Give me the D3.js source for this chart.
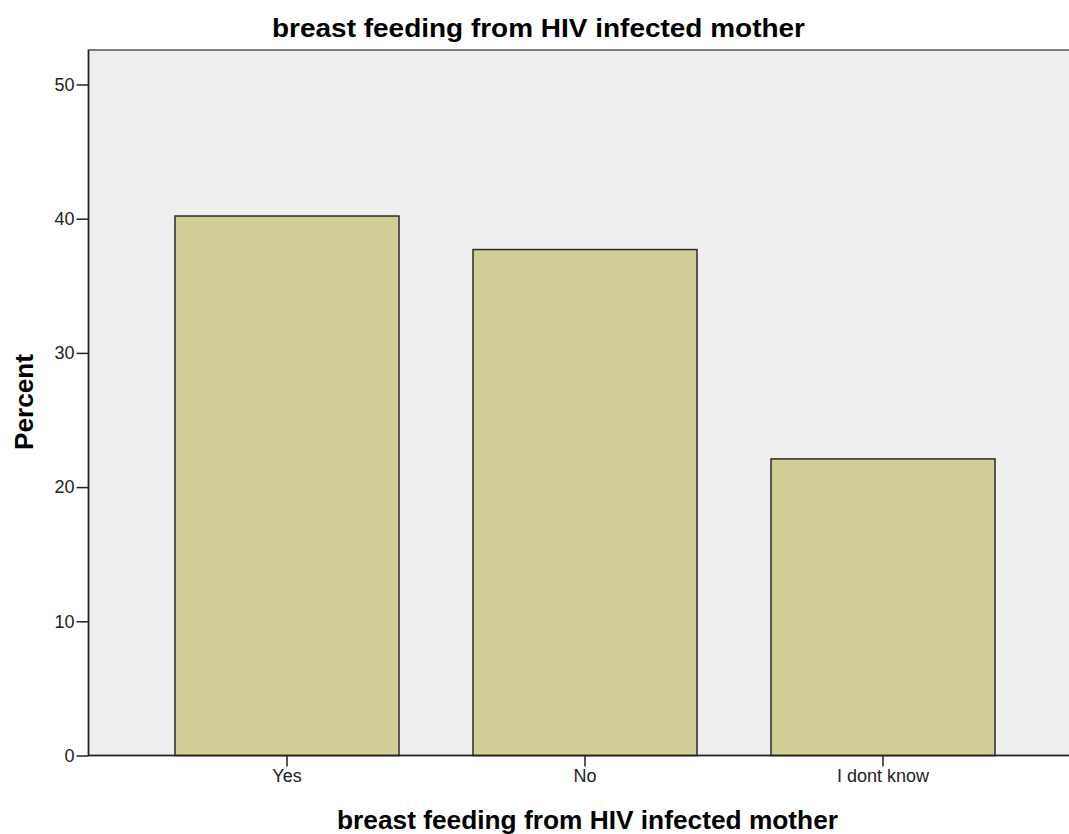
<!DOCTYPE html>
<html>
<head>
<meta charset="utf-8">
<script src="https://cdn.jsdelivr.net/npm/d3@7"></script>
<style>
  body { margin: 0; background: #fff; }
  text { font-family: "Liberation Sans", Arial, sans-serif; }
</style>
</head>
<body>
<div id="chart"></div>
<script>
// data
const categories = ["Yes", "No", "I dont know"];
const percents = [40.2, 37.7, 22.1];
const yTicks = [0, 10, 20, 30, 40, 50];

const width = 1069, height = 834;
const plot = {left: 88.5, top: 50, right: 1075, bottom: 755.5};

const svg = d3.select("#chart").append("svg")
    .attr("width", width)
    .attr("height", height);

// scales
const x = d3.scaleBand()
    .domain(categories)
    .range([138, 1032])
    .paddingInner(74 / 298)
    .paddingOuter(37 / 298);

const y = d3.scaleLinear()
    .domain([0, 52.57])
    .range([plot.bottom, plot.top]);

// plot background
svg.append("rect")
    .attr("x", plot.left)
    .attr("y", plot.top)
    .attr("width", plot.right - plot.left)
    .attr("height", plot.bottom - plot.top)
    .attr("fill", "#efefef")
    .attr("stroke", "#555")
    .attr("stroke-width", 1.5);

// bars
svg.selectAll(".bar")
    .data(percents)
  .enter().append("rect")
    .attr("class", "bar")
    .attr("x", (d, i) => x(categories[i]))
    .attr("y", d => y(d))
    .attr("width", x.bandwidth())
    .attr("height", d => y(0) - y(d))
    .attr("fill", "#d3ce97")
    .attr("stroke", "#2b2b2b")
    .attr("stroke-width", 1.5);

// x axis
const xAxis = svg.append("g")
    .attr("transform", "translate(0," + plot.bottom + ")")
    .call(d3.axisBottom(x).tickSize(11).tickPadding(3));
xAxis.select(".domain").attr("stroke", "#222").attr("stroke-width", 1.5)
    .attr("d", "M" + plot.left + ",0H" + width);
xAxis.selectAll(".tick line").attr("stroke", "#222").attr("stroke-width", 1.5);
xAxis.selectAll(".tick text")
    .attr("fill", "#222")
    .style("font-size", "18px")
    .style("font-family", "Liberation Sans, Arial, sans-serif");

// y axis
const yAxis = svg.append("g")
    .attr("transform", "translate(" + plot.left + ",0)")
    .call(d3.axisLeft(y).tickValues(yTicks).tickSize(12).tickPadding(2));
yAxis.select(".domain").attr("stroke", "#222").attr("stroke-width", 1.5)
    .attr("d", "M0," + plot.top + "V" + plot.bottom);
yAxis.selectAll(".tick line").attr("stroke", "#222").attr("stroke-width", 1.5);
yAxis.selectAll(".tick text")
    .attr("fill", "#222")
    .style("font-size", "18px")
    .style("font-family", "Liberation Sans, Arial, sans-serif");

// titles
svg.append("text")
    .attr("x", 538.5)
    .attr("y", 37)
    .attr("text-anchor", "middle")
    .attr("textLength", 533)
    .attr("lengthAdjust", "spacingAndGlyphs")
    .style("font-size", "25px")
    .style("font-weight", "bold")
    .text("breast feeding from HIV infected mother");

svg.append("text")
    .attr("x", 587.5)
    .attr("y", 829)
    .attr("text-anchor", "middle")
    .attr("textLength", 501)
    .attr("lengthAdjust", "spacingAndGlyphs")
    .style("font-size", "25px")
    .style("font-weight", "bold")
    .text("breast feeding from HIV infected mother");

svg.append("text")
    .attr("transform", "translate(33,402) rotate(-90)")
    .attr("text-anchor", "middle")
    .attr("textLength", 96)
    .attr("lengthAdjust", "spacingAndGlyphs")
    .style("font-size", "25px")
    .style("font-weight", "bold")
    .text("Percent");
</script>
</body>
</html>
